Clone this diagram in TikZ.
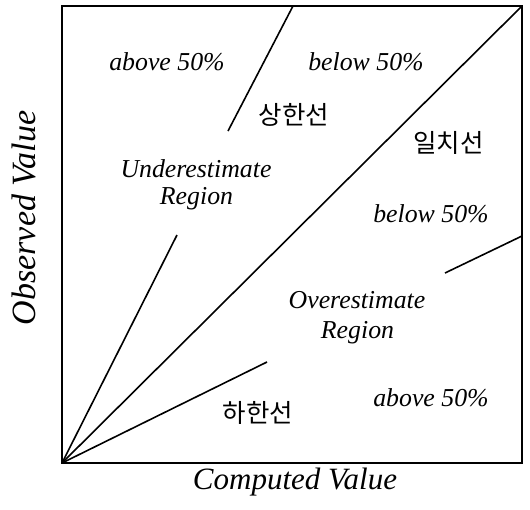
\documentclass[tikz,border=0pt]{standalone}
\usepackage{fontspec}
\setmainfont{Liberation Serif}
\newfontfamily\krfont{Noto Sans CJK KR}
\begin{document}
\begin{tikzpicture}[x=1pt,y=-1pt,
  frame/.style={line width=2pt},
  ray/.style={line width=1.6pt},
  lab/.style={font=\fontsize{25.8}{28}\selectfont\itshape, anchor=base, inner sep=0pt},
  kr/.style={font=\fontsize{25.5}{28}\selectfont\krfont, inner sep=0pt},
  axis/.style={font=\fontsize{31}{34}\selectfont\itshape, anchor=base, inner sep=0pt},
  axisv/.style={font=\fontsize{34}{37}\selectfont\itshape, anchor=base, inner sep=0pt, rotate=90}]
\useasboundingbox (0,0) rectangle (530,509);
\coordinate (O) at (62,463);
\coordinate (TR) at (522,6);
\coordinate (TL) at (62,6);
\coordinate (BR) at (522,463);
\draw[frame] (TL) rectangle (BR);
% agreement line
\draw[ray] (O) -- (TR);
% upper limit line
\coordinate (U1) at (177,235);
\coordinate (U2) at (228,131);
\coordinate (U3) at (293,6);
\draw[ray] (O) -- (U1);
\draw[ray] (U2) -- (U3);
% lower limit line
\coordinate (L1) at (267,362);
\coordinate (L2) at (445,273);
\coordinate (L3) at (522,236);
\draw[ray] (O) -- (L1);
\draw[ray] (L2) -- (L3);
% labels
\node[lab] (a1) at (167,70) {above 50\%};
\node[lab] (b1) at (366,70) {below 50\%};
\node[kr] (sang) at (294,114.5) {상한선};
\node[kr] (il) at (448.5,143) {일치선};
\node[lab] (u1) at (196,177) {Underestimate};
\node[lab] (u2) at (196.5,204) {Region};
\node[lab] (b2) at (431,222.5) {below 50\%};
\node[lab] (o1) at (357,308) {Overestimate};
\node[lab] (o2) at (357.5,338) {Region};
\node[lab] (a2) at (431,406.5) {above 50\%};
\node[kr] (ha) at (258,412.5) {하한선};
\node[axis] (cx) at (295,489) {Computed Value};
\node[axisv] (oy) at (35,218) {Observed Value};
\end{tikzpicture}
\end{document}
